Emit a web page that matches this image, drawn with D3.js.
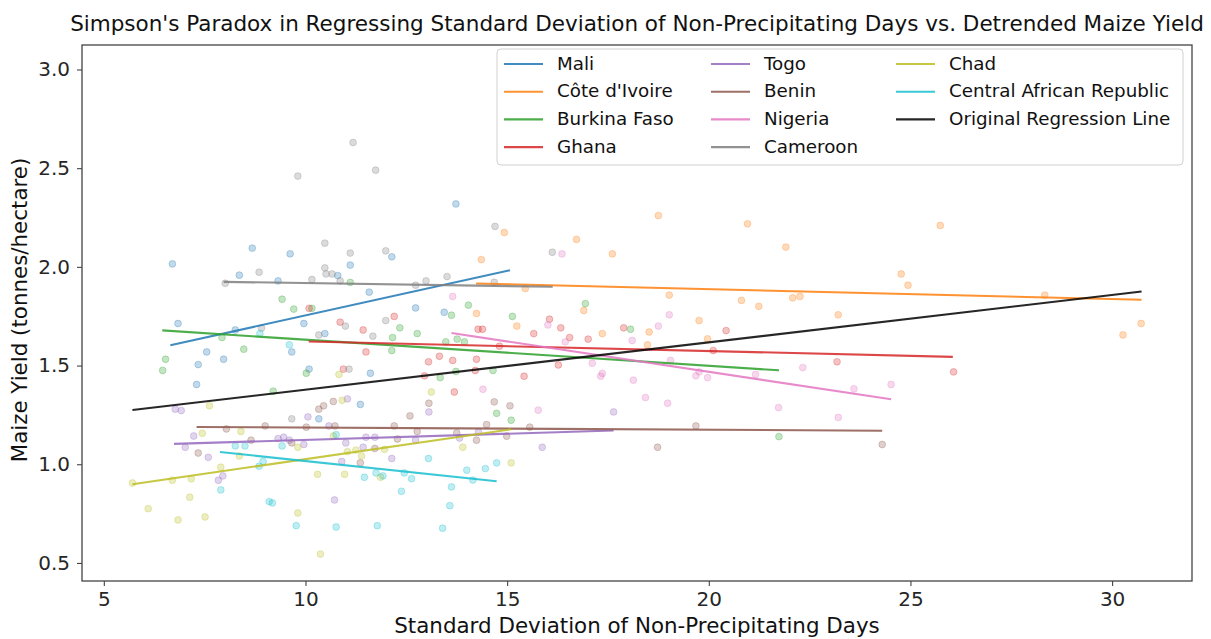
<!DOCTYPE html>
<html>
<head>
<meta charset="utf-8">
<script src="https://cdn.jsdelivr.net/npm/d3@7"></script>
<style>
  html, body { margin: 0; padding: 0; background: #fff; }
  svg { display: block; font-family: "DejaVu Sans", sans-serif; }
</style>
</head>
<body>
<svg id="chart" width="1211" height="639"></svg>
<script>
// Country names in legend order
const countries = ["Mali", "Côte d'Ivoire", "Burkina Faso", "Ghana", "Togo", "Benin",
                   "Nigeria", "Cameroon", "Chad", "Central African Republic"];

// Observations per country: [std. dev. of non-precipitating days, detrended maize yield]
const mali = [[8.68,2.095],[9.62,2.066],[6.70,2.015],[11.11,2.009],[10.80,1.956],[8.36,1.958],[9.32,1.929],
  [11.58,1.872],[6.84,1.713],[9.96,1.713],[8.26,1.68],[10.48,1.662],[9.66,1.569],[7.55,1.569],[7.97,1.532],
  [7.34,1.505],[7.30,1.404],[10.09,1.482],[11.61,1.461],[11.36,1.303],[10.33,1.23],[13.73,2.319],[12.14,2.051],
  [12.73,1.792],[13.44,1.77]];
const coteDIvoire = [[14.93,2.174],[18.75,2.26],[16.72,2.139],[17.61,2.066],[14.36,2.037],[15.45,1.89],[14.24,1.764],
  [15.24,1.70],[16.90,1.779],[17.36,1.662],[18.52,1.67],[18.48,1.605],[20.96,2.218],[21.91,2.10],[25.74,2.21],
  [24.77,1.964],[24.94,1.907],[19.02,1.857],[20.81,1.83],[21.24,1.80],[22.08,1.843],[22.26,1.85],[23.21,1.757],
  [19.76,1.728],[19.97,1.635],[28.33,1.857],[30.27,1.655],[30.72,1.713]];
const burkinaFaso = [[11.11,1.921],[9.42,1.836],[9.71,1.786],[10.16,1.79],[7.93,1.642],[6.53,1.532],[8.47,1.583],
  [6.46,1.475],[10.02,1.461],[9.20,1.37],[14.04,1.806],[13.62,1.755],[12.34,1.691],[12.16,1.642],[12.77,1.662],
  [12.14,1.576],[13.48,1.62],[13.76,1.634],[13.94,1.62],[15.13,1.749],[16.94,1.814],[18.06,1.684],[13.34,1.439],
  [13.73,1.47],[14.65,1.475],[14.74,1.258],[15.10,1.223],[21.74,1.14]];
const ghana = [[10.09,1.79],[10.86,1.72],[11.43,1.68],[10.94,1.482],[11.50,1.569],[12.20,1.749],[14.28,1.684],
  [14.39,1.684],[15.66,1.662],[16.05,1.735],[16.33,1.691],[16.55,1.642],[17.01,1.634],[17.89,1.691],[13.32,1.547],
  [13.05,1.519],[13.65,1.526],[14.24,1.532],[14.81,1.598],[12.95,1.448],[14.21,1.475],[15.42,1.446],[16.27,1.503],
  [13.69,1.366],[20.43,1.677],[20.11,1.576],[23.18,1.519],[26.07,1.468]];
const togo = [[6.77,1.279],[6.92,1.272],[11.04,1.331],[10.06,1.24],[10.58,1.194],[7.23,1.143],[7.02,1.086],
  [7.59,1.035],[9.32,1.13],[9.46,1.137],[9.60,1.122],[9.96,1.10],[11.0,1.108],[11.43,1.086],[11.50,1.137],
  [11.72,1.137],[10.90,1.014],[7.95,0.941],[7.84,0.919],[10.72,0.819],[13.06,1.265],[17.64,1.265],[12.73,1.123],
  [13.82,1.133],[14.29,1.164],[12.14,1.029],[15.87,1.086]];
const benin = [[10.33,1.279],[10.45,1.296],[10.69,1.318],[8.04,1.179],[9.0,1.194],[10.02,1.188],[10.73,1.194],
  [7.34,1.057],[8.65,1.122],[9.66,1.108],[11.36,1.007],[13.06,1.309],[12.59,1.245],[14.68,1.316],[15.07,1.296],
  [12.20,1.194],[14.49,1.201],[15.56,1.188],[12.77,1.166],[13.75,1.159],[12.28,1.128],[14.24,1.122],[14.99,1.142],
  [11.72,1.08],[18.73,1.086],[19.68,1.194],[24.3,1.10]];
const nigeria = [[16.36,2.066],[13.65,1.85],[16.01,1.706],[16.44,1.62],[18.10,1.627],[18.75,1.70],[17.11,1.512],
  [17.32,1.446],[17.36,1.46],[18.13,1.426],[14.40,1.38],[15.77,1.274],[18.43,1.338],[19.02,1.757],[19.05,1.526],
  [22.33,1.49],[21.16,1.455],[19.68,1.448],[19.97,1.439],[19.76,1.468],[18.98,1.309],[21.73,1.287],[23.60,1.382],
  [24.52,1.404],[23.21,1.237]];
const cameroon = [[11.18,2.63],[9.81,2.46],[11.74,2.49],[10.48,2.12],[11.11,2.07],[10.48,1.995],[10.51,1.964],
  [10.66,1.964],[8.85,1.973],[10.16,1.936],[10.86,1.929],[8.01,1.917],[10.99,1.70],[8.91,1.69],[10.33,1.655],
  [11.67,1.649],[11.08,1.482],[9.66,1.23],[14.70,2.205],[11.99,2.081],[16.12,2.074],[12.99,1.929],[13.51,1.951],
  [12.73,1.907],[14.68,1.922],[11.99,1.728]];
const chad = [[7.62,1.296],[10.91,1.324],[10.83,1.455],[8.40,1.166],[7.44,1.157],[9.81,1.086],[10.69,1.143],
  [11.04,1.064],[11.25,1.072],[11.39,1.042],[7.90,0.985],[8.36,1.042],[6.70,0.919],[7.17,0.926],[5.71,0.905],
  [10.30,0.949],[10.97,0.949],[7.13,0.833],[6.10,0.775],[6.84,0.718],[7.51,0.733],[9.81,0.753],[10.37,0.545],
  [13.12,1.366],[11.96,1.076],[13.90,1.086],[11.86,0.934],[15.10,1.007]];
const centralAfricanRepublic = [[8.87,1.662],[9.60,1.605],[8.26,1.093],[8.50,1.093],[9.42,1.093],[10.76,1.15],
  [8.95,1.014],[8.85,0.99],[7.90,0.87],[11.46,0.934],[11.75,0.956],[9.10,0.811],[9.18,0.804],[9.77,0.689],
  [10.76,0.682],[11.78,0.689],[13.05,1.029],[11.92,0.941],[12.45,0.956],[12.63,0.927],[14.0,0.97],[14.46,0.978],
  [14.74,1.007],[14.15,0.92],[12.38,0.863],[13.62,0.885],[13.58,0.79],[13.40,0.676]];

const observations = [mali, coteDIvoire, burkinaFaso, ghana, togo, benin, nigeria, cameroon, chad, centralAfricanRepublic];

// Per-country fitted regression segments: [x start, yield at start, x end, yield at end]
const countryFits = [
  [6.65, 1.603, 15.07, 1.983],
  [14.23, 1.916, 30.73, 1.833],
  [6.45, 1.678, 21.74, 1.476],
  [10.08, 1.622, 26.05, 1.544],
  [6.74, 1.103, 17.64, 1.171],
  [7.30, 1.189, 24.30, 1.170],
  [13.62, 1.665, 24.52, 1.329],
  [7.97, 1.924, 16.13, 1.899],
  [5.71, 0.899, 15.10, 1.177],
  [7.88, 1.062, 14.74, 0.914]
];
// Pooled regression over all countries
const pooledFit = [5.71, 1.275, 30.73, 1.875];
const pooledLabel = "Original Regression Line";

const xTicks = [5, 10, 15, 20, 25, 30];
const yTicks = [0.5, 1.0, 1.5, 2.0, 2.5, 3.0];
const xDomain = [4.459, 31.981];
const yDomain = [0.4085, 3.124];

const palette = ["#1f77b4", "#ff7f0e", "#2ca02c", "#d62728", "#9467bd",
                 "#8c564b", "#e377c2", "#7f7f7f", "#bcbd22", "#17becf"];

const svg = d3.select("#chart");
const margin = { left: 82, right: 1192, top: 45, bottom: 581 };

const x = d3.scaleLinear().domain(xDomain).range([margin.left, margin.right]);
const y = d3.scaleLinear().domain(yDomain).range([margin.bottom, margin.top]);

const plot = svg.append("g");

// Scatter points
observations.forEach((pts, i) => {
  plot.append("g").selectAll("circle")
    .data(pts)
    .join("circle")
    .attr("cx", d => x(d[0]))
    .attr("cy", d => y(d[1]))
    .attr("r", 3.4)
    .attr("fill", palette[i])
    .attr("fill-opacity", 0.28)
    .attr("stroke", palette[i])
    .attr("stroke-opacity", 0.28)
    .attr("stroke-width", 1);
});

// Regression lines
const lineGen = d3.line().x(d => x(d[0])).y(d => y(d[1]));
countryFits.forEach((f, i) => {
  plot.append("path")
    .attr("d", lineGen([[f[0], f[1]], [f[2], f[3]]]))
    .attr("stroke", palette[i])
    .attr("stroke-opacity", 0.85)
    .attr("stroke-width", 2.1)
    .attr("fill", "none");
});
plot.append("path")
  .attr("d", lineGen([[pooledFit[0], pooledFit[1]], [pooledFit[2], pooledFit[3]]]))
  .attr("stroke", "#000")
  .attr("stroke-opacity", 0.85)
  .attr("stroke-width", 2.1)
  .attr("fill", "none");

// Axes
const axisColor = "#444";
const xAxis = svg.append("g")
  .attr("transform", `translate(0,${margin.bottom})`)
  .call(d3.axisBottom(x).tickValues(xTicks).tickFormat(d3.format("d")).tickSizeOuter(0).tickSize(5).tickPadding(6));
const yAxis = svg.append("g")
  .attr("transform", `translate(${margin.left},0)`)
  .call(d3.axisLeft(y).tickValues(yTicks).tickFormat(d3.format(".1f")).tickSizeOuter(0).tickSize(5).tickPadding(7));
[xAxis, yAxis].forEach(a => {
  a.select(".domain").remove();
  a.selectAll(".tick line").attr("stroke", axisColor).attr("stroke-width", 1.1);
  a.selectAll(".tick text").attr("fill", "#262626").style("font-size", "20px")
    .style("font-family", "'DejaVu Sans', sans-serif");
});

// Frame around the plotting area
svg.append("rect")
  .attr("x", margin.left).attr("y", margin.top)
  .attr("width", margin.right - margin.left).attr("height", margin.bottom - margin.top)
  .attr("fill", "none").attr("stroke", axisColor).attr("stroke-width", 1.3);

// Titles
svg.append("text")
  .attr("x", (margin.left + margin.right) / 2).attr("y", 31)
  .attr("text-anchor", "middle").style("font-size", "21.5px").attr("fill", "#111")
  .text("Simpson's Paradox in Regressing Standard Deviation of Non-Precipitating Days vs. Detrended Maize Yield");
svg.append("text")
  .attr("x", (margin.left + margin.right) / 2).attr("y", 633)
  .attr("text-anchor", "middle").style("font-size", "21.4px").attr("fill", "#111")
  .text("Standard Deviation of Non-Precipitating Days");
svg.append("text")
  .attr("transform", `translate(27,${(margin.top + margin.bottom) / 2 - 3}) rotate(-90)`)
  .attr("text-anchor", "middle").style("font-size", "21.4px").attr("fill", "#111")
  .text("Maize Yield (tonnes/hectare)");

// Legend
const legendItems = countries.map((c, i) => ({ label: c, color: palette[i] }))
  .concat([{ label: pooledLabel, color: "#000" }]);
const legend = svg.append("g");
legend.append("rect")
  .attr("x", 497).attr("y", 49).attr("width", 686).attr("height", 116)
  .attr("rx", 4).attr("fill", "#fff").attr("fill-opacity", 0.8)
  .attr("stroke", "#d0d0d0").attr("stroke-width", 1);
const colX = [504, 711, 896];
const rowY0 = 64, rowStep = 27.7;
legendItems.forEach((it, i) => {
  const col = Math.floor(i / 4), row = i % 4;
  const gy = rowY0 + row * rowStep;
  legend.append("line")
    .attr("x1", colX[col]).attr("x2", colX[col] + 39)
    .attr("y1", gy).attr("y2", gy)
    .attr("stroke", it.color).attr("stroke-opacity", 0.85).attr("stroke-width", 2.1);
  legend.append("text")
    .attr("x", colX[col] + 53).attr("y", gy + 5.5)
    .style("font-size", "18.3px").attr("fill", "#111")
    .text(it.label);
});
</script>
</body>
</html>
